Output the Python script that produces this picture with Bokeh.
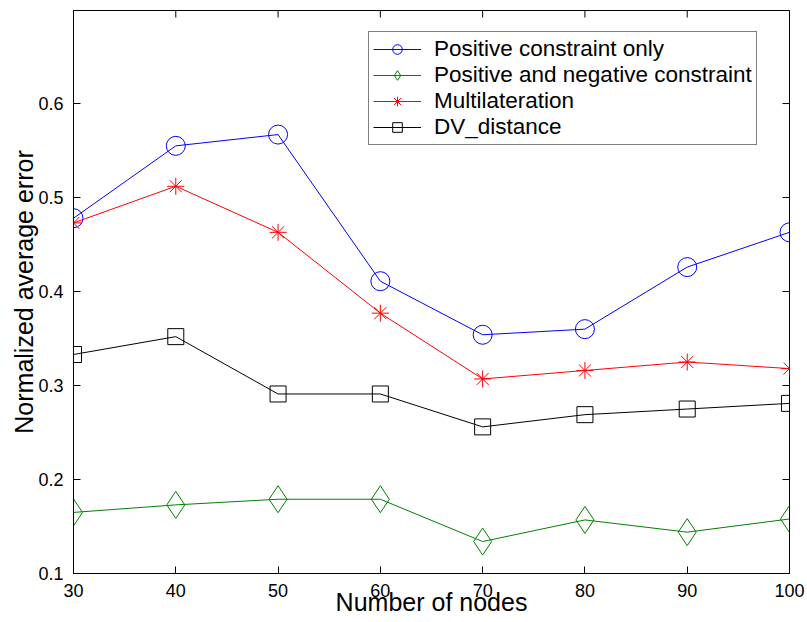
import math
from bokeh.plotting import figure
from bokeh.models import Legend, LegendItem, FixedTicker, Range1d
from bokeh.embed import file_html
from bokeh.resources import INLINE

nodes = [30, 40, 50, 60, 70, 80, 90, 100]
positive_only = [0.478, 0.555, 0.567, 0.411, 0.354, 0.360, 0.426, 0.463]
pos_and_neg = [0.165, 0.173, 0.179, 0.179, 0.134, 0.157, 0.144, 0.158]
multilateration = [0.473, 0.512, 0.463, 0.377, 0.307, 0.316, 0.325, 0.318]
dv_distance = [0.333, 0.352, 0.291, 0.291, 0.256, 0.269, 0.275, 0.281]

x_ticks = [30, 40, 50, 60, 70, 80, 90, 100]
y_ticks = [0.1, 0.2, 0.3, 0.4, 0.5, 0.6]

X_MIN, X_MAX = 30, 100
Y_MIN, Y_MAX = 0.1, 0.699

FONT = "Liberation Sans"

p = figure(width=807, height=622, output_backend="svg", toolbar_location=None,
           x_range=Range1d(X_MIN, X_MAX), y_range=Range1d(Y_MIN, Y_MAX),
           min_border_left=73, min_border_right=18, min_border_top=10, min_border_bottom=49)
p.background_fill_color = "white"
p.border_fill_color = "white"
p.outline_line_color = "black"
p.outline_line_width = 1
p.xgrid.visible = False
p.ygrid.visible = False

for ax, ticks in ((p.xaxis[0], x_ticks), (p.yaxis[0], y_ticks)):
    ax.ticker = FixedTicker(ticks=ticks)
    ax.major_tick_in = 7
    ax.major_tick_out = 0
    ax.minor_tick_line_color = None
    ax.axis_line_color = "black"
    ax.major_tick_line_color = "black"
    ax.major_label_text_font = FONT
    ax.major_label_text_color = "black"
    ax.major_label_text_font_size = "18px"
    ax.major_label_standoff = 10
    ax.axis_label_text_font = FONT
    ax.axis_label_text_font_size = "25px"
    ax.axis_label_text_font_style = "normal"
    ax.axis_label_text_color = "black"

p.xaxis[0].axis_label = "Number of nodes"
p.yaxis[0].axis_label = "Normalized average error"
p.xaxis[0].axis_label_standoff = -12
p.yaxis[0].axis_label_standoff = -3

# mirrored inward ticks on the top and right edges of the box
p.ray(x=x_ticks, y=[Y_MAX] * len(x_ticks), length=7, length_units="screen",
      angle=-math.pi / 2, line_color="black", line_width=1)
p.ray(x=[X_MAX] * len(y_ticks), y=y_ticks, length=7, length_units="screen",
      angle=math.pi, line_color="black", line_width=1)

series = [
    ("Positive constraint only", positive_only, "#0000ff", "circle", 19),
    ("Positive and negative constraint", pos_and_neg, "#008000", "diamond", 27),
    ("Multilateration", multilateration, "#ff0000", "asterisk", 17),
    ("DV_distance", dv_distance, "#000000", "square", 16),
]

items = []
for name, vals, color, marker, size in series:
    l = p.line(nodes, vals, line_color=color, line_width=1)
    s = p.scatter(nodes, vals, marker=marker, size=size, line_color=color,
                  fill_color=None, line_width=1)
    items.append(LegendItem(label=name, renderers=[l, s]))

legend = Legend(items=items, location=(295, 428))
legend.label_text_font = FONT
legend.label_text_font_size = "22.5px"
legend.label_text_color = "black"
legend.border_line_color = "black"
legend.border_line_width = 1
legend.background_fill_color = "white"
legend.background_fill_alpha = 1
legend.padding = 4
legend.spacing = -2
legend.glyph_width = 48
legend.glyph_height = 24
legend.label_standoff = 13
legend.margin = 0
p.add_layout(legend, "center")

open("out.html", "w").write(file_html(p, INLINE))
